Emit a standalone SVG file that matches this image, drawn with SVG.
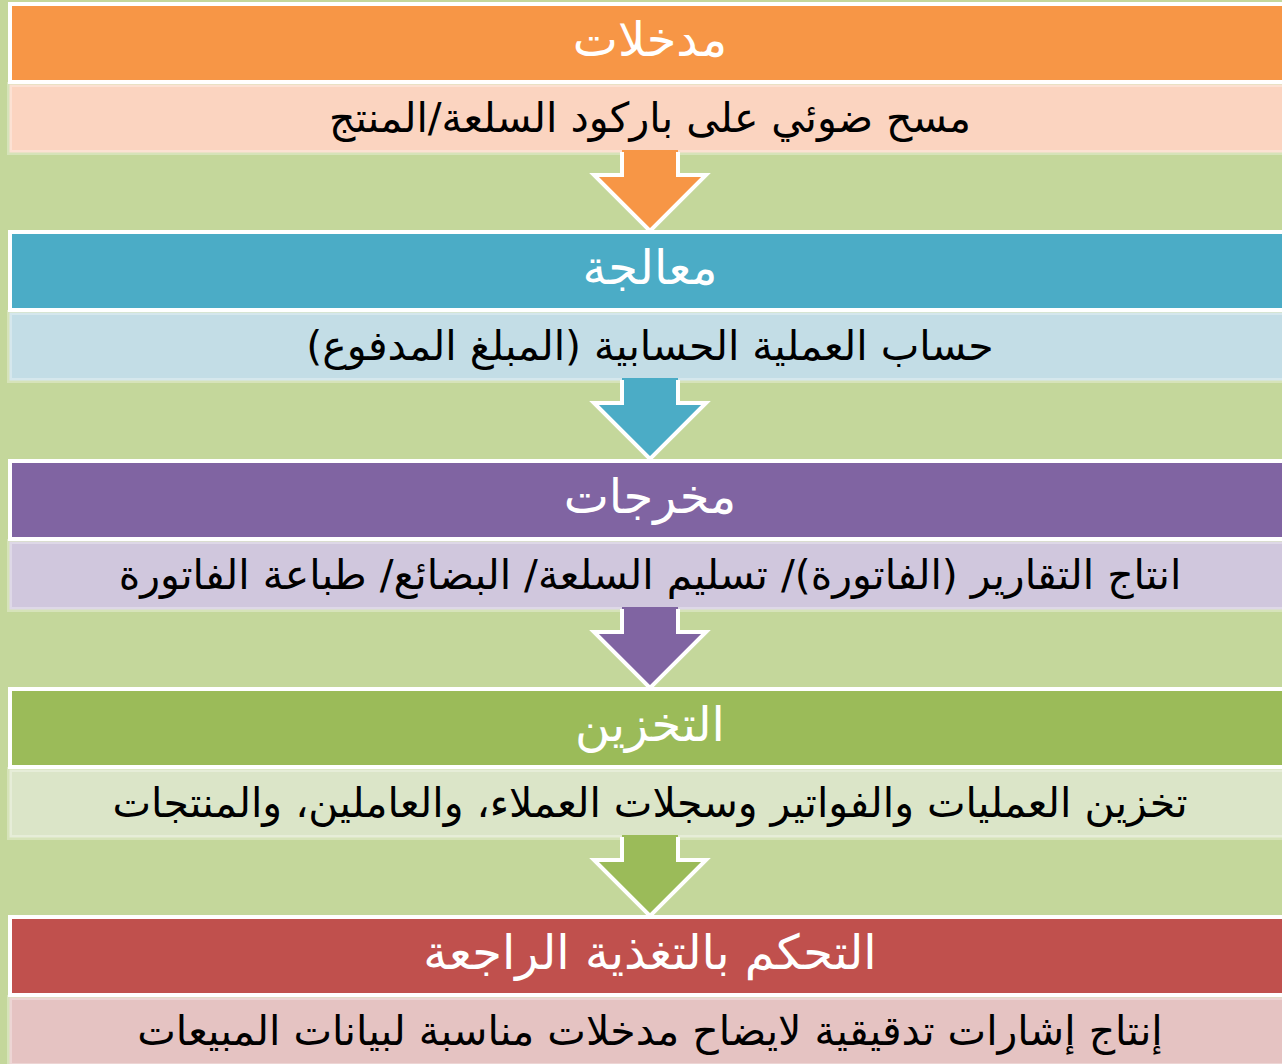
<svg xmlns="http://www.w3.org/2000/svg" width="1282" height="1064" viewBox="0 0 1282 1064">
<style>
.hd{stroke:#ffffff;stroke-width:4}
.bd{stroke:#ffffff;stroke-opacity:0.3;stroke-width:5}
.ht{font-family:"DejaVu Sans","Liberation Sans",sans-serif;font-size:48px;fill:#ffffff;text-anchor:middle;direction:rtl}
.bt{font-family:"DejaVu Sans","Liberation Sans",sans-serif;font-size:41px;fill:#000000;text-anchor:middle;direction:rtl}
.ao{fill:none;stroke:#ffffff;stroke-width:4;stroke-linejoin:miter}
</style>
<rect x="0" y="0" width="1282" height="1064" fill="#c4d79b"/>
<g id="node-inputs">
<rect class="hd" x="10" y="4" width="1300" height="78" fill="#f79646"/>
<rect class="bd" x="9.5" y="84.5" width="1300" height="68" fill="#fbd4c0"/>
<text class="ht" x="650" y="56">مدخلات</text>
<text class="bt" x="650" y="132">مسح ضوئي على باركود السلعة/المنتج</text>
</g>
<g id="node-processing">
<rect class="hd" x="10" y="232" width="1300" height="78" fill="#4bacc6"/>
<rect class="bd" x="9.5" y="312.5" width="1300" height="68" fill="#c3dde6"/>
<text class="ht" x="650" y="284">معالجة</text>
<text class="bt" x="650" y="360">حساب العملية الحسابية (المبلغ المدفوع)</text>
</g>
<g id="node-outputs">
<rect class="hd" x="10" y="461" width="1300" height="78" fill="#8064a2"/>
<rect class="bd" x="9.5" y="541.5" width="1300" height="68" fill="#d0c7dd"/>
<text class="ht" x="650" y="513">مخرجات</text>
<text class="bt" x="650" y="589">انتاج التقارير (الفاتورة)/ تسليم السلعة/ البضائع/ طباعة الفاتورة</text>
</g>
<g id="node-storage">
<rect class="hd" x="10" y="689" width="1300" height="78" fill="#9bbb59"/>
<rect class="bd" x="9.5" y="769.5" width="1300" height="68" fill="#dbe5c8"/>
<text class="ht" x="650" y="741">التخزين</text>
<text class="bt" x="650" y="817">تخزين العمليات والفواتير وسجلات العملاء، والعاملين، والمنتجات</text>
</g>
<g id="node-feedback">
<rect class="hd" x="10" y="917" width="1300" height="78" fill="#c0504d"/>
<rect class="bd" x="9.5" y="997.5" width="1300" height="68" fill="#e5c3c2"/>
<text class="ht" x="650" y="969">التحكم بالتغذية الراجعة</text>
<text class="bt" x="650" y="1045">إنتاج إشارات تدقيقية لايضاح مدخلات مناسبة لبيانات المبيعات</text>
</g>
<g id="connectors">
<g transform="translate(0,0)">
<polygon points="622,150 622,175 594,175 650,231 706,175 678,175 678,150" fill="#f79646"/>
<polyline class="ao" points="622,152 622,175 594,175 650,231 706,175 678,175 678,152"/>
</g>
<g transform="translate(0,228)">
<polygon points="622,150 622,175 594,175 650,231 706,175 678,175 678,150" fill="#4bacc6"/>
<polyline class="ao" points="622,152 622,175 594,175 650,231 706,175 678,175 678,152"/>
</g>
<g transform="translate(0,457)">
<polygon points="622,150 622,175 594,175 650,231 706,175 678,175 678,150" fill="#8064a2"/>
<polyline class="ao" points="622,152 622,175 594,175 650,231 706,175 678,175 678,152"/>
</g>
<g transform="translate(0,685)">
<polygon points="622,150 622,175 594,175 650,231 706,175 678,175 678,150" fill="#9bbb59"/>
<polyline class="ao" points="622,152 622,175 594,175 650,231 706,175 678,175 678,152"/>
</g>
</g>
</svg>
